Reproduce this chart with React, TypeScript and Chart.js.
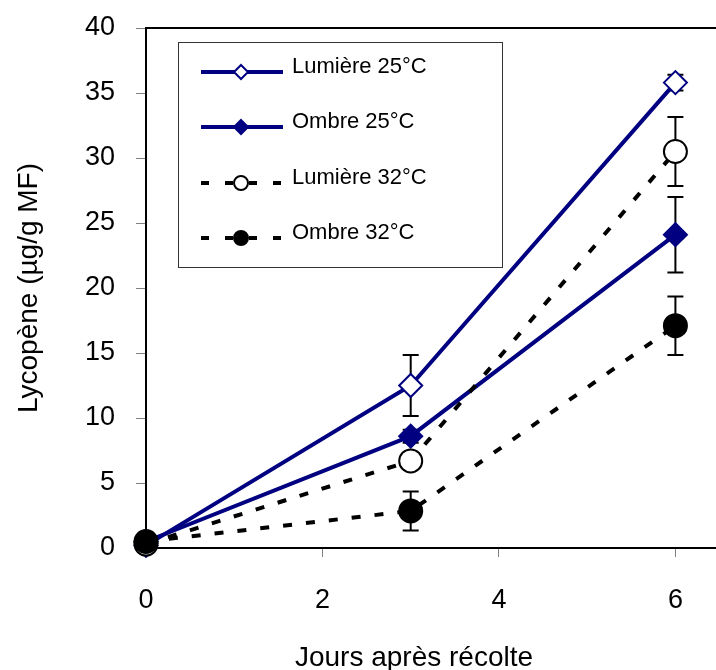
import React, { useEffect, useRef } from 'react';
import { Chart, registerables } from 'chart.js';

Chart.register(...registerables);

const days = [0, 3, 6];
const seriesNames = ['Lumière 25°C', 'Ombre 25°C', 'Lumière 32°C', 'Ombre 32°C'];
const lumiere25 = [0.2, 12.5, 35.8];
const ombre25 = [0.5, 8.6, 24.1];
const lumiere32 = [0.3, 6.7, 30.5];
const ombre32 = [0.5, 2.85, 17.1];
const lumiere25Err = [0.2, 2.35, 0.6];
const ombre25Err = [0.2, 0.5, 2.9];
const lumiere32Err = [0.2, 0.6, 2.65];
const ombre32Err = [0.2, 1.5, 2.25];
const xTicks = [0, 2, 4, 6];
const yTicks = [0, 5, 10, 15, 20, 25, 30, 35, 40];
const xTitle = 'Jours après récolte';
const yTitle = 'Lycopène (µg/g MF)';

const NAVY = '#000080';
const FONT = "'Liberation Sans', Arial, sans-serif";
const DASH = [9, 14];

type Style = { color: string; dashed: boolean; shape: 'diamond' | 'circle'; filled: boolean };
const styles: Style[] = [
  { color: NAVY, dashed: false, shape: 'diamond', filled: false },
  { color: NAVY, dashed: false, shape: 'diamond', filled: true },
  { color: '#000000', dashed: true, shape: 'circle', filled: false },
  { color: '#000000', dashed: true, shape: 'circle', filled: true },
];

function drawMarker(ctx: CanvasRenderingContext2D, s: Style, x: number, y: number, r: number) {
  ctx.save();
  ctx.setLineDash([]);
  ctx.beginPath();
  if (s.shape === 'diamond') {
    ctx.moveTo(x, y - r);
    ctx.lineTo(x + r, y);
    ctx.lineTo(x, y + r);
    ctx.lineTo(x - r, y);
    ctx.closePath();
  } else {
    ctx.arc(x, y, r, 0, Math.PI * 2);
  }
  ctx.fillStyle = s.filled ? s.color : '#ffffff';
  ctx.fill();
  ctx.lineWidth = 2;
  ctx.strokeStyle = s.color;
  ctx.stroke();
  ctx.restore();
}

const App: React.FC = () => {
  const ref = useRef<HTMLCanvasElement | null>(null);

  useEffect(() => {
    if (!ref.current) return;
    const values = [lumiere25, ombre25, lumiere32, ombre32];
    const errs = [lumiere25Err, ombre25Err, lumiere32Err, ombre32Err];

    const errorBars = {
      id: 'errorBars',
      beforeDatasetsDraw(chart: any) {
        const ctx = chart.ctx as CanvasRenderingContext2D;
        const xs = chart.scales.x;
        const ys = chart.scales.y;
        ctx.save();
        ctx.strokeStyle = '#000';
        ctx.lineWidth = 2;
        values.forEach((arr, si) => {
          arr.forEach((v, i) => {
            const px = xs.getPixelForValue(days[i]);
            const top = ys.getPixelForValue(v + errs[si][i]);
            const bot = ys.getPixelForValue(v - errs[si][i]);
            ctx.beginPath();
            ctx.moveTo(px, top);
            ctx.lineTo(px, bot);
            ctx.moveTo(px - 8, top);
            ctx.lineTo(px + 8, top);
            ctx.moveTo(px - 8, bot);
            ctx.lineTo(px + 8, bot);
            ctx.stroke();
          });
        });
        ctx.restore();
      },
    };

    const decorations = {
      id: 'decorations',
      afterDraw(chart: any) {
        const ctx = chart.ctx as CanvasRenderingContext2D;
        const area = chart.chartArea;
        ctx.save();
        // top border
        ctx.strokeStyle = '#000';
        ctx.lineWidth = 2;
        ctx.beginPath();
        ctx.moveTo(area.left, area.top);
        ctx.lineTo(area.right, area.top);
        ctx.stroke();

        // legend box
        const bx = 178.5, by = 42.5, bw = 324, bh = 225;
        ctx.fillStyle = '#ffffff';
        ctx.fillRect(bx, by, bw, bh);
        ctx.lineWidth = 1;
        ctx.strokeStyle = '#333333';
        ctx.strokeRect(bx, by, bw, bh);

        const rows = [72, 127, 183, 238];
        seriesNames.forEach((name, i) => {
          const s = styles[i];
          const y = rows[i];
          ctx.save();
          ctx.strokeStyle = s.color;
          ctx.lineWidth = 4;
          ctx.lineCap = 'butt';
          if (s.dashed) ctx.setLineDash([8, 16]);
          ctx.beginPath();
          ctx.moveTo(201, y);
          ctx.lineTo(283, y);
          ctx.stroke();
          ctx.restore();
          drawMarker(ctx, s, 241, y, 7);
          ctx.fillStyle = '#000';
          ctx.font = `22px ${FONT}`;
          ctx.textAlign = 'left';
          ctx.textBaseline = 'middle';
          ctx.fillText(name, 292, y - 5);
        });

        // axis titles
        ctx.fillStyle = '#000';
        ctx.font = `28px ${FONT}`;
        ctx.textAlign = 'center';
        ctx.textBaseline = 'alphabetic';
        ctx.fillText(xTitle, 414, 666);
        ctx.save();
        ctx.translate(37, 288);
        ctx.rotate(-Math.PI / 2);
        ctx.fillText(yTitle, 0, 0);
        ctx.restore();
        ctx.restore();
      },
    };

    const datasets = values.map((arr, i) => {
      const s = styles[i];
      return {
        label: seriesNames[i],
        data: days.map((d, j) => ({ x: d, y: arr[j] })),
        borderColor: s.color,
        backgroundColor: s.color,
        borderWidth: 4,
        borderDash: s.dashed ? DASH : [],
        borderCapStyle: 'butt',
        tension: 0,
        pointStyle: s.shape === 'diamond' ? 'rectRot' : 'circle',
        pointRadius: 11.5,
        pointBorderWidth: 2,
        pointBackgroundColor: s.filled ? s.color : '#ffffff',
        pointBorderColor: s.color,
        clip: false,
        order: 4 - i,
      };
    });

    const chart = new Chart(ref.current, {
      type: 'line',
      data: { datasets: datasets as any },
      options: {
        animation: false,
        responsive: false,
        devicePixelRatio: 1,
        layout: { autoPadding: false, padding: { top: 28, left: 0, right: 0, bottom: 0 } },
        plugins: { legend: { display: false }, tooltip: { enabled: false } },
        font: { family: FONT },
        scales: {
          x: {
            type: 'linear',
            min: 0,
            max: 6.46,
            afterFit: (sc: any) => { sc.height = 122; sc.paddingLeft = 0; sc.paddingRight = 0; },
            afterBuildTicks: (sc: any) => { sc.ticks = xTicks.map((v) => ({ value: v })); },
            border: { color: '#000', width: 2 },
            grid: { drawOnChartArea: false, drawTicks: true, tickLength: 9, color: '#808080', lineWidth: 1 },
            ticks: {
              color: '#000',
              font: { size: 27, family: FONT },
              padding: 27,
              maxRotation: 0,
              autoSkip: false,
              callback: (v: any) => String(v),
            },
          },
          y: {
            type: 'linear',
            min: 0,
            max: 40,
            afterFit: (sc: any) => { sc.width = 146; sc.paddingTop = 0; sc.paddingBottom = 0; },
            afterBuildTicks: (sc: any) => { sc.ticks = yTicks.map((v) => ({ value: v })); },
            border: { color: '#000', width: 2 },
            grid: { drawOnChartArea: false, drawTicks: true, tickLength: 10, color: '#808080', lineWidth: 1 },
            ticks: {
              color: '#000',
              font: { size: 27, family: FONT },
              padding: 21,
              autoSkip: false,
              callback: (v: any) => String(v),
            },
          },
        },
      } as any,
      plugins: [errorBars, decorations],
    });
    return () => chart.destroy();
  }, []);

  return (
    <div style={{ position: 'absolute', left: 0, top: 0, width: 716, height: 670, background: '#fff' }}>
      <canvas ref={ref} width={716} height={670} style={{ display: 'block', width: 716, height: 670 }} />
    </div>
  );
};

export default App;
